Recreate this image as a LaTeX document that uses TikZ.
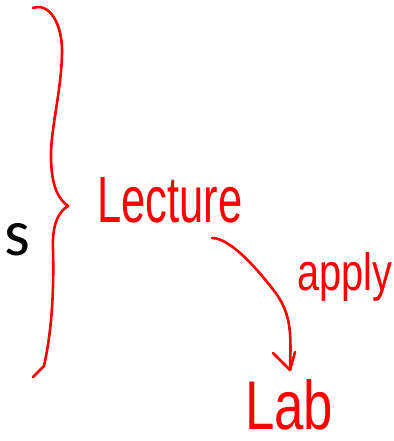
\documentclass[tikz,border=0pt]{standalone}
\usepackage{fontspec}
\setmainfont{Liberation Sans}
\newfontfamily\calfont{Carlito}
\begin{document}
\begin{tikzpicture}[x=1pt,y=-1pt,
  ink/.style={draw=red,line width=2.6pt,line cap=round,line join=round},
  hand/.style={text=red,inner sep=0pt,anchor=base west},
  plain/.style={text=black,inner sep=0pt,anchor=base west,font=\calfont\fontsize{66}{66}\selectfont}]
\useasboundingbox (0,0) rectangle (393,441);
% brace
\draw[ink] (33,8) .. controls (50,2) and (62,25) .. (62,50)
  .. controls (62,90) and (50,130) .. (51,160)
  .. controls (52,190) and (60,200) .. (68,206)
  .. controls (58,212) and (52,225) .. (53,250)
  .. controls (54,290) and (52,330) .. (44,366) -- (33,377);
\node[plain] (s) at (4,255) {s};
\node[hand] (lecture) at (97,222) {\resizebox{145pt}{45pt}{Lecture}};
\node[hand] (apply) at (297,290) {\resizebox{95pt}{38pt}{apply}};
\node[hand] (lab) at (245,429) {\resizebox{88pt}{50pt}{Lab}};
\coordinate (astart) at (212,238);
\coordinate (atip) at (290,370);
\draw[ink] (astart) .. controls (232,238) and (262,275) .. (275,292)
  .. controls (292,315) and (291,335) .. (atip);
\draw[ink] (273,353) -- (atip) -- (295,352);
\end{tikzpicture}
\end{document}
